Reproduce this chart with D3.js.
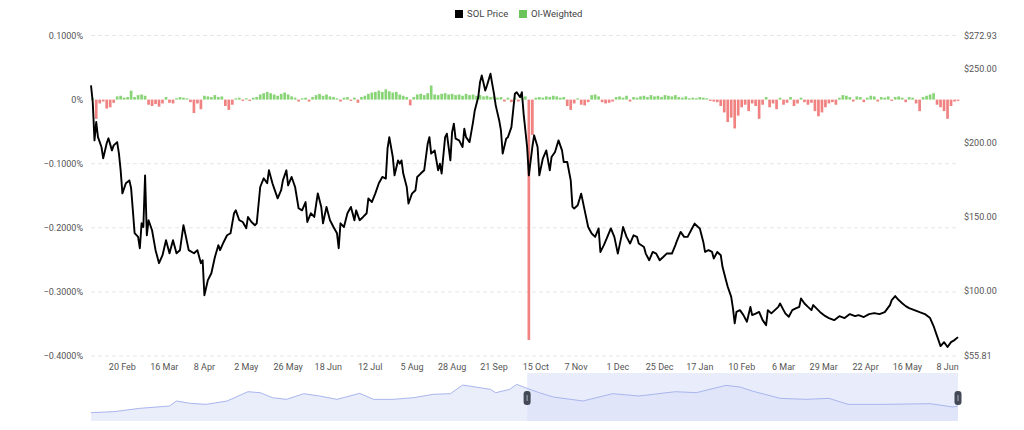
<!DOCTYPE html>
<html>
<head>
<meta charset="utf-8">
<script src="https://cdn.jsdelivr.net/npm/d3@7"></script>
<style>
  body { margin: 0; background: #fff; }
  svg text { font-family: Roboto, "Noto Sans", sans-serif; }
</style>
</head>
<body>
<svg id="chart"></svg>
<script>
// SOL price
const priceDates = [
  "2022-02-02","2022-02-03","2022-02-04","2022-02-05","2022-02-06","2022-02-08","2022-02-09","2022-02-11","2022-02-12","2022-02-14",
  "2022-02-15","2022-02-17","2022-02-18","2022-02-19","2022-02-20","2022-02-22","2022-02-24","2022-02-25","2022-02-26","2022-02-27",
  "2022-03-01","2022-03-02","2022-03-03","2022-03-04","2022-03-05","2022-03-06","2022-03-07","2022-03-09","2022-03-11","2022-03-13",
  "2022-03-15","2022-03-17","2022-03-19","2022-03-21","2022-03-23","2022-03-25","2022-03-27","2022-03-28","2022-03-30","2022-04-02",
  "2022-04-04","2022-04-06","2022-04-07","2022-04-08","2022-04-10","2022-04-12","2022-04-14","2022-04-16","2022-04-17","2022-04-19",
  "2022-04-21","2022-04-23","2022-04-25","2022-04-26","2022-04-28","2022-04-30","2022-05-02","2022-05-03","2022-05-05","2022-05-07",
  "2022-05-08","2022-05-10","2022-05-12","2022-05-14","2022-05-15","2022-05-17","2022-05-18","2022-05-20","2022-05-22","2022-05-23",
  "2022-05-25","2022-05-26","2022-05-28","2022-05-30","2022-06-01","2022-06-03","2022-06-05","2022-06-06","2022-06-08","2022-06-10",
  "2022-06-12","2022-06-14","2022-06-15","2022-06-17","2022-06-19","2022-06-21","2022-06-23","2022-06-24","2022-06-25","2022-06-27",
  "2022-06-29","2022-07-01","2022-07-03","2022-07-04","2022-07-06","2022-07-08","2022-07-10","2022-07-11","2022-07-13","2022-07-15",
  "2022-07-17","2022-07-19","2022-07-21","2022-07-22","2022-07-23","2022-07-25","2022-07-26","2022-07-28","2022-07-29","2022-07-30",
  "2022-07-31","2022-08-02","2022-08-03","2022-08-05","2022-08-07","2022-08-08","2022-08-10","2022-08-12","2022-08-14","2022-08-15",
  "2022-08-16","2022-08-18","2022-08-20","2022-08-21","2022-08-22","2022-08-24","2022-08-25","2022-08-27","2022-08-28","2022-08-29",
  "2022-08-30","2022-09-01","2022-09-03","2022-09-04","2022-09-05","2022-09-07","2022-09-09","2022-09-10","2022-09-12","2022-09-13",
  "2022-09-14","2022-09-16","2022-09-17","2022-09-19","2022-09-20","2022-09-21","2022-09-22","2022-09-24","2022-09-25","2022-09-26",
  "2022-09-28","2022-09-29","2022-10-01","2022-10-02","2022-10-03","2022-10-04","2022-10-06","2022-10-07","2022-10-08","2022-10-10",
  "2022-10-11","2022-10-13","2022-10-14","2022-10-16","2022-10-17","2022-10-19","2022-10-21","2022-10-23","2022-10-24","2022-10-26",
  "2022-10-28","2022-10-30","2022-10-31","2022-11-02","2022-11-04","2022-11-05","2022-11-06","2022-11-08","2022-11-10","2022-11-12",
  "2022-11-14","2022-11-16","2022-11-18","2022-11-20","2022-11-21","2022-11-23","2022-11-25","2022-11-27","2022-11-29","2022-12-01",
  "2022-12-03","2022-12-04","2022-12-06","2022-12-08","2022-12-10","2022-12-12","2022-12-13","2022-12-16","2022-12-17","2022-12-19",
  "2022-12-21","2022-12-23","2022-12-25","2022-12-27","2022-12-29","2023-01-01","2023-01-03","2023-01-04","2023-01-06","2023-01-08",
  "2023-01-10","2023-01-12","2023-01-14","2023-01-16","2023-01-17","2023-01-19","2023-01-20","2023-01-22","2023-01-24","2023-01-25",
  "2023-01-27","2023-01-29","2023-01-30","2023-02-01","2023-02-02","2023-02-04","2023-02-05","2023-02-06","2023-02-07","2023-02-09",
  "2023-02-11","2023-02-13","2023-02-15","2023-02-16","2023-02-18","2023-02-20","2023-02-22","2023-02-24","2023-02-25","2023-02-27",
  "2023-03-01","2023-03-03","2023-03-04","2023-03-06","2023-03-07","2023-03-09","2023-03-11","2023-03-13","2023-03-15","2023-03-16",
  "2023-03-18","2023-03-20","2023-03-22","2023-03-23","2023-03-27","2023-03-30","2023-04-01","2023-04-04","2023-04-07","2023-04-10",
  "2023-04-13","2023-04-16","2023-04-18","2023-04-21","2023-04-24","2023-04-27","2023-04-30","2023-05-03","2023-05-06","2023-05-07",
  "2023-05-09","2023-05-11","2023-05-13","2023-05-15","2023-05-17","2023-05-20","2023-05-23","2023-05-26","2023-05-29","2023-05-31",
  "2023-06-02","2023-06-04","2023-06-06","2023-06-08","2023-06-10","2023-06-12","2023-06-14"
];
const priceValues = [
  239.1,227.8,201.9,214.3,204.1,197.4,189.7,199.9,203.3,195.1,
  198.5,200.7,193.1,181.6,166.0,172.8,174.8,169.4,154.5,139.0,
  136.5,128.8,145.7,143.2,178.2,137.6,147.8,141.0,127.5,118.7,
  124.1,134.2,125.4,134.2,125.4,127.5,144.4,139.0,127.5,125.4,
  127.5,118.7,120.7,97.0,107.2,111.9,122.7,130.9,127.5,132.9,
  137.6,139.0,152.5,154.5,147.8,146.6,142.4,150.0,146.6,144.4,
  145.7,170.3,176.2,172.8,181.6,172.8,169.4,162.6,168.1,174.8,
  181.6,171.4,177.1,170.3,155.9,154.5,160.1,146.6,152.5,150.0,
  166.0,156.8,145.7,156.8,147.8,143.2,139.0,128.8,145.7,143.2,
  152.5,156.8,147.8,154.5,147.8,150.0,152.5,162.6,160.1,166.0,
  172.8,177.1,176.0,196.5,204.1,190.6,178.2,188.3,186.1,188.3,
  179.4,170.3,159.1,165.8,168.1,177.1,179.4,181.6,199.6,204.1,
  192.9,195.1,181.6,186.1,179.4,204.1,206.4,188.3,207.5,213.2,
  203.0,201.9,197.4,209.8,204.1,200.7,214.3,222.2,231.2,241.3,
  245.9,235.7,239.1,247.0,240.2,233.5,225.6,215.4,208.6,192.9,
  203.0,204.1,210.9,222.2,233.5,234.5,231.2,234.5,219.9,197.4,
  178.2,197.4,205.3,197.4,178.2,189.5,195.1,181.6,190.6,194.0,
  201.9,195.1,187.2,187.2,174.8,156.8,155.7,157.9,165.8,154.5,
  143.2,138.8,136.5,142.2,126.3,130.9,136.5,142.2,136.5,125.2,
  136.5,143.2,136.5,132.0,137.6,136.5,132.0,129.7,125.2,120.7,
  126.3,125.2,120.7,122.9,125.2,125.2,130.9,134.2,139.9,136.5,
  136.5,141.0,145.5,143.2,142.2,133.1,126.3,127.5,126.3,121.9,
  126.3,124.1,116.2,107.2,102.7,95.9,88.0,77.9,85.7,86.9,
  83.5,79.0,89.1,83.5,84.5,85.7,80.1,76.7,86.9,84.7,
  86.9,89.1,91.4,86.9,84.7,82.4,86.9,88.0,89.1,94.8,
  91.4,89.1,86.9,90.3,85.5,82.8,81.5,80.1,82.8,81.5,
  84.2,82.8,83.5,82.2,84.2,84.9,84.2,85.5,90.3,93.7,
  96.4,93.7,91.6,89.6,88.2,86.9,85.5,84.2,81.5,76.1,
  69.3,62.5,65.2,61.9,65.2,66.6,68.6
];

// OI-weighted funding rate (%), one bar every two days from fundingStart
const fundingStart = "2022-02-02";
const fundingStepDays = 2;
const fundingRates = [
  0.002,-0.030,-0.006,-0.003,-0.014,-0.012,-0.005,0.005,0.006,0.003,
  0.004,0.014,0.004,0.007,0.008,0.006,-0.008,-0.010,-0.007,-0.011,
  -0.006,0.004,-0.005,-0.006,0.002,0.004,0.003,0.002,-0.004,-0.021,
  -0.006,-0.015,0.006,0.005,0.004,0.007,0.004,0.005,-0.010,-0.016,
  -0.008,0.002,0.003,-0.002,0.002,-0.002,0.003,0.004,0.008,0.010,
  0.012,0.010,0.008,0.006,0.009,0.011,0.008,0.005,0.003,-0.003,
  0.002,0.003,-0.003,0.004,0.007,0.009,0.006,0.008,0.005,0.004,
  0.002,-0.003,0.003,0.004,-0.002,0.003,-0.005,0.004,0.006,0.009,
  0.011,0.012,0.014,0.012,0.016,0.013,0.011,0.012,0.008,0.006,
  0.004,-0.009,0.004,0.008,0.009,0.007,0.010,0.022,0.008,0.007,
  0.009,0.010,0.008,0.009,0.007,0.008,0.006,0.009,0.007,0.008,
  0.006,0.007,0.005,0.006,0.004,0.005,0.003,0.004,-0.003,0.003,
  -0.004,0.003,-0.003,0.004,0.005,-0.375,-0.055,0.003,0.004,0.003,
  0.005,0.004,0.006,0.005,0.003,0.004,-0.010,-0.016,-0.006,0.002,
  -0.008,-0.009,-0.004,0.007,0.008,0.005,-0.004,-0.006,-0.005,-0.003,
  0.004,0.005,0.003,0.006,-0.003,0.004,0.003,0.005,0.006,0.004,
  0.007,0.005,0.006,0.004,0.007,0.006,0.005,0.007,0.004,0.003,
  0.005,0.002,0.003,0.002,0.004,0.003,0.002,-0.002,-0.003,-0.004,
  -0.010,-0.020,-0.035,-0.028,-0.045,-0.025,-0.012,-0.008,-0.018,-0.006,
  -0.010,-0.030,-0.008,0.004,-0.012,-0.006,-0.015,0.003,-0.008,-0.005,
  0.004,-0.010,-0.006,0.003,-0.004,-0.008,-0.005,-0.018,-0.026,-0.020,
  -0.012,-0.006,-0.004,-0.008,0.003,0.007,0.006,0.004,-0.003,0.005,
  0.004,-0.004,0.003,0.006,0.005,-0.003,0.004,0.003,0.005,-0.002,
  0.004,0.005,0.003,-0.004,0.004,0.003,-0.006,-0.018,0.004,0.006,
  0.008,0.010,-0.008,-0.012,-0.018,-0.030,-0.010,-0.003,-0.002
];

// navigator (data zoom) overview line
const navDates = [
  "2022-02-02","2022-02-15","2022-03-02","2022-03-19","2022-03-23","2022-03-31","2022-04-09","2022-04-21","2022-05-03","2022-05-10",
  "2022-05-17","2022-05-25","2022-06-04","2022-06-13","2022-06-23","2022-07-06","2022-07-14","2022-07-25","2022-08-06","2022-08-17",
  "2022-08-27","2022-09-03","2022-09-13","2022-09-19","2022-09-22","2022-09-30","2022-10-04","2022-10-10","2022-10-17","2022-10-25",
  "2022-11-11","2022-11-28","2022-12-13","2023-01-03","2023-01-15","2023-02-01","2023-02-09","2023-02-16","2023-03-04","2023-03-19",
  "2023-04-01","2023-04-12","2023-05-04","2023-05-29","2023-06-11","2023-06-14"
];
const navValues = [
  50,56,76,90,120,106,100,120,176,170,
  140,130,164,150,130,166,130,130,140,160,
  164,216,200,190,170,190,220,196,170,144,
  120,164,150,176,170,214,204,180,136,130,
  136,100,100,104,84,90
];
const navSelection = ["2022-10-10", "2023-06-14"];

const leftTicks = [0.1, 0, -0.1, -0.2, -0.3, -0.4];
const rightTicks = [272.93, 250, 200, 150, 100, 55.81];
const xTickDates = [
  "2022-02-20","2022-03-16","2022-04-08","2022-05-02","2022-05-26","2022-06-18","2022-07-12",
  "2022-08-05","2022-08-28","2022-09-21","2022-10-15","2022-11-07","2022-12-01","2022-12-25",
  "2023-01-17","2023-02-10","2023-03-06","2023-03-29","2023-04-22","2023-05-16","2023-06-08"
];

const width = 1024;
const height = 430;
const plot_left = 91;
const plot_right = 958;
const plot_top = 35.5;
const plot_bottom = 356;
const nav_top = 373;
const nav_bottom = 421;

const parse = d3.timeParse("%Y-%m-%d");
const green = "#8ad478";
const red = "#f08282";
const labelColor = "#555";

const svg = d3.select("#chart")
  .attr("width", width)
  .attr("height", height)
  .style("background-color", "#fff");

const xScale = d3.scaleTime()
  .domain([parse("2022-02-02"), parse("2023-06-14")])
  .range([plot_left, plot_right]);

const yLeft = d3.scaleLinear()
  .domain([-0.4, 0.1])
  .range([plot_bottom, plot_top]);

const yRight = d3.scaleLinear()
  .domain([55.81, 272.93])
  .range([plot_bottom, plot_top]);

// grid lines from the left axis
svg.append("g")
  .selectAll("line")
  .data(leftTicks.filter(d => d !== 0))
  .enter()
  .append("line")
    .attr("x1", plot_left)
    .attr("x2", plot_right)
    .attr("y1", d => yLeft(d))
    .attr("y2", d => yLeft(d))
    .style("stroke", "#e6e6e6")
    .style("stroke-width", 1)
    .style("stroke-dasharray", "4,3");

// left axis labels
svg.append("g")
  .selectAll("text")
  .data(leftTicks)
  .enter()
  .append("text")
    .attr("x", 83)
    .attr("y", d => yLeft(d))
    .attr("dy", "0.35em")
    .attr("text-anchor", "end")
    .style("font-size", "9px")
    .style("fill", labelColor)
    .text(d => d === 0 ? "0%" : d3.format(".4f")(d) + "%");

// right axis labels
svg.append("g")
  .selectAll("text")
  .data(rightTicks)
  .enter()
  .append("text")
    .attr("x", 964)
    .attr("y", d => yRight(d))
    .attr("dy", "0.35em")
    .attr("text-anchor", "start")
    .style("font-size", "9px")
    .style("fill", labelColor)
    .text(d => "$" + d3.format(".2f")(d));

// x axis labels
svg.append("g")
  .selectAll("text")
  .data(xTickDates)
  .enter()
  .append("text")
    .attr("x", d => xScale(parse(d)))
    .attr("y", 367)
    .attr("dy", "0.35em")
    .attr("text-anchor", "middle")
    .style("font-size", "9px")
    .style("fill", labelColor)
    .text(d => d3.timeFormat("%-d %b")(parse(d)));

// funding bars
const fundingDate = i => d3.timeDay.offset(parse(fundingStart), i * fundingStepDays);
svg.append("g")
  .selectAll("rect")
  .data(fundingRates)
  .enter()
  .append("rect")
    .attr("x", (d, i) => xScale(fundingDate(i)) + 0.4)
    .attr("width", (d, i) => Math.max(1, xScale(fundingDate(i + 1)) - xScale(fundingDate(i)) - 0.8))
    .attr("y", d => Math.min(yLeft(0), yLeft(d)))
    .attr("height", d => Math.abs(yLeft(d) - yLeft(0)))
    .style("fill", d => d >= 0 ? green : red);

// price line
const pricePoints = priceDates.map((d, i) => [parse(d), priceValues[i]]);
svg.append("path")
  .datum(pricePoints)
  .attr("d", d3.line()
    .x(d => xScale(d[0]))
    .y(d => yRight(d[1])))
  .style("fill", "none")
  .style("stroke", "#000")
  .style("stroke-width", 1.9)
  .style("stroke-linejoin", "round");

// navigator
const yNav = d3.scaleLinear()
  .domain([0, 260])
  .range([nav_bottom, nav_bottom - 43.3]);
const navPoints = navDates.map((d, i) => [parse(d), navValues[i]]);
const navG = svg.append("g");

navG.append("path")
  .datum(navPoints)
  .attr("d", d3.area()
    .x(d => xScale(d[0]))
    .y0(nav_bottom)
    .y1(d => yNav(d[1])))
  .style("fill", "#eaedfa");

const selX0 = xScale(parse(navSelection[0]));
const selX1 = xScale(parse(navSelection[1]));
navG.append("rect")
  .attr("x", selX0)
  .attr("y", nav_top)
  .attr("width", selX1 - selX0)
  .attr("height", nav_bottom - nav_top)
  .style("fill", "#d8dff9")
  .style("opacity", 0.6);

navG.append("path")
  .datum(navPoints)
  .attr("d", d3.line()
    .x(d => xScale(d[0]))
    .y(d => yNav(d[1])))
  .style("fill", "none")
  .style("stroke", "#a9b6ee")
  .style("stroke-width", 1);

navG.selectAll(".handle")
  .data([selX0, selX1])
  .enter()
  .append("rect")
    .attr("class", "handle")
    .attr("x", d => d - 3.5)
    .attr("y", 391)
    .attr("width", 7)
    .attr("height", 14)
    .attr("rx", 3)
    .style("fill", "#434956");

navG.selectAll(".grip")
  .data([selX0, selX1])
  .enter()
  .append("line")
    .attr("class", "grip")
    .attr("x1", d => d)
    .attr("x2", d => d)
    .attr("y1", 395)
    .attr("y2", 401)
    .style("stroke", "#aab0bd")
    .style("stroke-width", 1);

// legend
const legend = [
  { name: "SOL Price", color: "#000", x: 455 },
  { name: "OI-Weighted", color: "#6cc35a", x: 519 }
];
const lg = svg.append("g");
lg.selectAll("rect")
  .data(legend)
  .enter()
  .append("rect")
    .attr("x", d => d.x)
    .attr("y", 10)
    .attr("width", 8)
    .attr("height", 8)
    .style("fill", d => d.color);
lg.selectAll("text")
  .data(legend)
  .enter()
  .append("text")
    .attr("x", d => d.x + 12)
    .attr("y", 14)
    .attr("dy", "0.35em")
    .style("font-size", "9.5px")
    .style("fill", "#444")
    .text(d => d.name);
</script>
</body>
</html>
